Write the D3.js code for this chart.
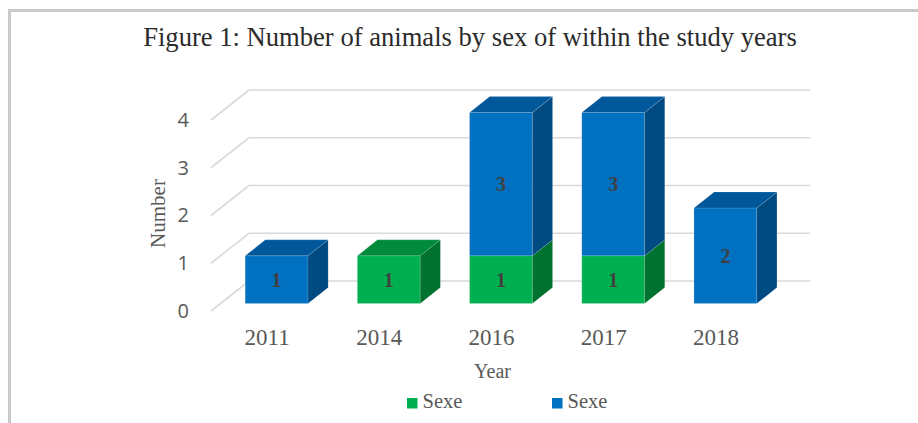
<!DOCTYPE html>
<html>
<head>
<meta charset="utf-8">
<script src="https://cdn.jsdelivr.net/npm/d3@7"></script>
<style>
  html, body { margin: 0; padding: 0; background: #ffffff; }
  svg { display: block; }
</style>
</head>
<body>
<svg id="chart" width="918" height="423"></svg>
<script>
// ---- data ----
const years = ["2011", "2014", "2016", "2017", "2018"];
const greenValues = [0, 1, 1, 1, 0];
const blueValues = [1, 0, 3, 3, 2];
const yTicks = [0, 1, 2, 3, 4];
const seriesNames = ["Sexe", "Sexe"];
const titleText = "Figure 1: Number of animals by sex of within the study years";
const xTitle = "Year";
const yTitle = "Number";

// ---- layout ----
const svg = d3.select("#chart");
const W = 918, H = 423;
const front = { left: 211, right: 772, bottom: 311, top: 120 };
const DX = 38, DY = 30;        // depth vector of the 3D walls
const zFront = 0.25, zBack = 0.78;
const barFrac = 0.56;

const x = d3.scaleBand().domain(years).range([front.left, front.right]).paddingInner(0).paddingOuter(0);
const y = d3.scaleLinear().domain([0, 4]).range([front.bottom, front.top]);

function P(px, v, z) { return [px + z * DX, y(v) - z * DY]; }

const colors = {
  green: { front: "#00B050", top: "#008A3C", side: "#00722F" },
  blue:  { front: "#0070C0", top: "#00589B", side: "#004A82" }
};

// border
svg.append("line").attr("x1", 8).attr("x2", W).attr("y1", 10.5).attr("y2", 10.5)
  .attr("stroke", "#c9c9c9").attr("stroke-width", 3);
svg.append("line").attr("x1", 9.5).attr("x2", 9.5).attr("y1", 9).attr("y2", H)
  .attr("stroke", "#c9c9c9").attr("stroke-width", 3);

// title
svg.append("text").attr("x", 470).attr("y", 46).attr("text-anchor", "middle")
  .attr("font-family", "'Liberation Serif', 'Times New Roman', serif")
  .attr("font-size", 26.6).attr("fill", "#2b2b2b").text(titleText);

// gridlines (side wall + back wall)
const grid = svg.append("g");
yTicks.forEach(t => {
  const a = P(front.left, t, 0), b = P(front.left, t, 1), c = P(front.right, t, 1);
  grid.append("polyline").attr("points", [a, b, c].map(p => p.join(",")).join(" "))
    .attr("fill", "none").attr("stroke", "#d9d9d9").attr("stroke-width", 1.6);
});

// y axis labels
const yAxis = svg.append("g").attr("transform", `translate(${front.left},0)`)
  .call(d3.axisLeft(y).tickValues(yTicks).tickSize(0).tickPadding(22).tickFormat(d3.format("d")));
yAxis.select(".domain").remove();
yAxis.selectAll("text").attr("font-family", "'Open Sans', sans-serif").attr("font-size", 20).attr("fill", "#595959");

// x axis labels
const xAxis = svg.append("g").attr("transform", `translate(0,${front.bottom})`)
  .call(d3.axisBottom(x).tickSize(0).tickPadding(0));
xAxis.select(".domain").remove();
xAxis.selectAll("text").attr("dy", null).attr("y", 34)
  .attr("font-family", "'Liberation Serif', 'Times New Roman', serif").attr("font-size", 23).attr("fill", "#595959");

// axis titles
svg.append("text").attr("x", 492.5).attr("y", 378).attr("text-anchor", "middle")
  .attr("font-family", "'Liberation Serif', 'Times New Roman', serif").attr("font-size", 20)
  .attr("fill", "#595959").text(xTitle);
svg.append("text").attr("transform", "translate(165,213.5) rotate(-90)").attr("text-anchor", "middle")
  .attr("font-family", "'Liberation Serif', 'Times New Roman', serif").attr("font-size", 21)
  .attr("fill", "#595959").text(yTitle);

// bars
const bars = svg.append("g");
const labels = svg.append("g");
function poly(pts, fill) {
  bars.append("polygon").attr("points", pts.map(p => p.join(",")).join(" "))
    .attr("fill", fill).attr("stroke", "rgba(255,255,255,0.22)").attr("stroke-width", 0.6);
}
years.forEach((yr, i) => {
  const bw = x.bandwidth() * barFrac;
  const cx = x(yr) + x.bandwidth() / 2;
  const x0 = cx - bw / 2, x1 = cx + bw / 2;
  const segs = [
    { v0: 0, v1: greenValues[i], c: colors.green, val: greenValues[i] },
    { v0: greenValues[i], v1: greenValues[i] + blueValues[i], c: colors.blue, val: blueValues[i] }
  ].filter(s => s.val > 0);
  segs.forEach((s, k) => {
    poly([P(x0, s.v0, zFront), P(x1, s.v0, zFront), P(x1, s.v1, zFront), P(x0, s.v1, zFront)], s.c.front);
    poly([P(x1, s.v0, zFront), P(x1, s.v0, zBack), P(x1, s.v1, zBack), P(x1, s.v1, zFront)], s.c.side);
    if (k === segs.length - 1) {
      poly([P(x0, s.v1, zFront), P(x1, s.v1, zFront), P(x1, s.v1, zBack), P(x0, s.v1, zBack)], s.c.top);
    }
    const mid = P(cx, (s.v0 + s.v1) / 2, zFront);
    labels.append("text").attr("x", mid[0]).attr("y", mid[1]).attr("dy", "0.35em")
      .attr("text-anchor", "middle")
      .attr("font-family", "'Liberation Serif', 'Times New Roman', serif")
      .attr("font-weight", "bold").attr("font-size", 20).attr("fill", "#404040")
      .text(s.val);
  });
});

// legend
const legend = svg.append("g");
const legendItems = [
  { name: seriesNames[0], color: colors.green.front, x: 407 },
  { name: seriesNames[1], color: colors.blue.front, x: 552 }
];
legendItems.forEach(it => {
  legend.append("rect").attr("x", it.x).attr("y", 398).attr("width", 10.5).attr("height", 10.5).attr("fill", it.color);
  legend.append("text").attr("x", it.x + 15.5).attr("y", 408)
    .attr("font-family", "'Liberation Serif', 'Times New Roman', serif").attr("font-size", 20.5)
    .attr("fill", "#595959").text(it.name);
});
</script>
</body>
</html>
